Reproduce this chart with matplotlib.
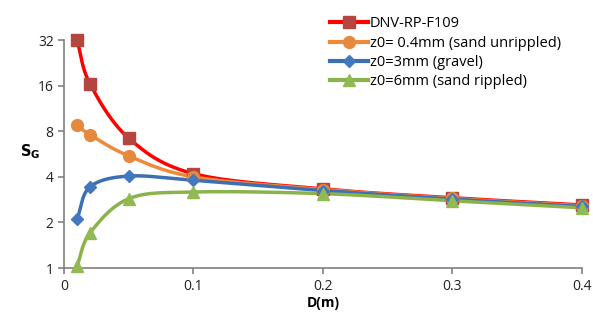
import numpy as np
import matplotlib.pyplot as plt
from matplotlib.ticker import FixedLocator, FixedFormatter

plt.rcParams['font.family'] = ['Open Sans', 'DejaVu Sans']

# data
D = [0.01, 0.02, 0.05, 0.1, 0.2, 0.3, 0.4]
dnv = [32.0, 16.5, 7.2, 4.2, 3.33, 2.91, 2.61]
sand_unrippled = [8.75, 7.6, 5.5, 4.0, 3.3, 2.88, 2.58]
gravel = [2.1, 3.43, 4.05, 3.8, 3.25, 2.85, 2.55]
sand_rippled = [1.03, 1.7, 2.87, 3.18, 3.1, 2.78, 2.5]

labels = ['DNV-RP-F109', 'z0= 0.4mm (sand unrippled)',
          'z0=3mm (gravel)', 'z0=6mm (sand rippled)']
y_ticks = [1, 2, 4, 8, 16, 32]
x_ticks = [0, 0.1, 0.2, 0.3, 0.4]


def smooth(x, y, n=30):
    # Catmull-Rom curve through the points, like Excel "smoothed line"
    x = np.asarray(x, float)
    y = np.log2(np.asarray(y, float))
    px = np.concatenate([[2 * x[0] - x[1]], x, [2 * x[-1] - x[-2]]])
    py = np.concatenate([[2 * y[0] - y[1]], y, [2 * y[-1] - y[-2]]])
    xs, ys = [], []
    t = np.linspace(0, 1, n)
    for i in range(1, len(px) - 2):
        for p, out in ((px, xs), (py, ys)):
            p0, p1, p2, p3 = p[i - 1], p[i], p[i + 1], p[i + 2]
            c1 = p1 + (p2 - p0) / 6
            c2 = p2 - (p3 - p1) / 6
            out.append((1 - t) ** 3 * p1 + 3 * (1 - t) ** 2 * t * c1
                       + 3 * (1 - t) * t ** 2 * c2 + t ** 3 * p2)
    return np.concatenate(xs), 2 ** np.concatenate(ys)


fig = plt.figure(figsize=(5.93, 3.23), dpi=100)
ax = fig.add_axes([0.108, 0.170, 0.873, 0.706])

styles = [
    (dnv, '#FF0000', 's', '#B5453F', 8.5),
    (sand_unrippled, '#EE8A3A', 'o', '#E48A3E', 8.5),
    (gravel, '#3D6FB4', 'D', '#4478BE', 6.5),
    (sand_rippled, '#8BB34C', '^', '#92BA52', 8.5),
]

handles = []
for (vals, lc, mk, mc, ms), lab in zip(styles, labels):
    sx, sy = smooth(D, vals)
    ax.plot(sx, sy, color=lc, lw=2.5, clip_on=False, zorder=2)
    ax.plot(D, vals, ls='none', marker=mk, ms=ms, color=mc,
            markeredgecolor=mc, clip_on=False, zorder=3)
    h, = ax.plot([], [], color=lc, lw=3, marker=mk, ms=ms,
                 markerfacecolor=mc, markeredgecolor=mc)
    handles.append(h)

ax.set_yscale('log', base=2)
ax.set_ylim(1, 32)
ax.set_xlim(0, 0.4)
ax.yaxis.set_major_locator(FixedLocator(y_ticks))
ax.yaxis.set_major_formatter(FixedFormatter([str(v) for v in y_ticks]))
ax.yaxis.set_minor_locator(FixedLocator([]))
ax.set_xticks(x_ticks)
ax.set_xticklabels(['0', '0.1', '0.2', '0.3', '0.4'])

for s in ['top', 'right']:
    ax.spines[s].set_visible(False)
for s in ['left', 'bottom']:
    ax.spines[s].set_color('#808080')
    ax.spines[s].set_linewidth(1.2)
ax.tick_params(colors='#808080', labelcolor='#222222', labelsize=10,
               length=4, width=1.2)

ax.set_xlabel('D(m)', fontsize=10, fontweight='bold', labelpad=2)
ax.set_ylabel(r'$\mathbf{S_G}$', fontsize=10.5, rotation=0, labelpad=12)
ax.yaxis.set_label_coords(-0.065, 0.47)

fig.legend(handles=handles, labels=labels, loc='upper left',
           bbox_to_anchor=(0.535, 0.99), frameon=False, fontsize=10.5,
           handlelength=2.6, handletextpad=0.1, labelspacing=0.3)

fig.savefig('out.png', dpi=100)
